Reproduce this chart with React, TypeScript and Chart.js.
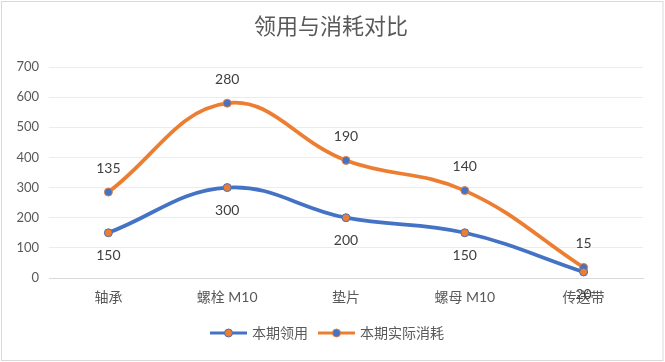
import React, { useEffect, useRef } from 'react';
import { Chart, registerables } from 'chart.js';

Chart.register(...registerables);

const titleText = '领用与消耗对比';
const categories = ['轴承', '螺栓 M10', '垫片', '螺母 M10', '传送带'];
const usedValues = [150, 300, 200, 150, 20];
const consumedValues = [135, 280, 190, 140, 15];
const seriesNames = ['本期领用', '本期实际消耗'];
const yTicks = [0, 100, 200, 300, 400, 500, 600, 700];

const BLUE = '#4472C4';
const ORANGE = '#ED7D31';
const FONT = 'Lato, "Noto Sans CJK SC", sans-serif';

const decorPlugin = {
  id: 'decor',
  beforeDraw(chart: any) {
    const ctx = chart.ctx;
    ctx.save();
    ctx.fillStyle = '#ffffff';
    ctx.fillRect(0, 0, chart.width, chart.height);
    ctx.strokeStyle = '#d9d9d9';
    ctx.lineWidth = 1;
    ctx.strokeRect(1.5, 1.5, chart.width - 3.5, chart.height - 3);
    ctx.restore();
  },
  afterDraw(chart: any) {
    const ctx = chart.ctx;
    ctx.save();
    // title
    ctx.fillStyle = '#595959';
    ctx.font = `22px ${FONT}`;
    ctx.textAlign = 'center';
    ctx.textBaseline = 'middle';
    ctx.fillText(titleText, 331, 27);
    // legend
    const ly = 333;
    const items = [
      { x: 210, line: BLUE, fill: ORANGE, text: seriesNames[0] },
      { x: 318, line: ORANGE, fill: BLUE, text: seriesNames[1] },
    ];
    items.forEach((it) => {
      ctx.strokeStyle = it.line;
      ctx.lineWidth = 3;
      ctx.beginPath();
      ctx.moveTo(it.x, ly);
      ctx.lineTo(it.x + 37, ly);
      ctx.stroke();
      ctx.beginPath();
      ctx.arc(it.x + 18.5, ly, 4, 0, Math.PI * 2);
      ctx.fillStyle = it.fill;
      ctx.fill();
      ctx.lineWidth = 1;
      ctx.strokeStyle = it.line;
      ctx.stroke();
      ctx.fillStyle = '#595959';
      ctx.font = `14px ${FONT}`;
      ctx.textAlign = 'left';
      ctx.textBaseline = 'middle';
      ctx.fillText(it.text, it.x + 42, ly);
    });
    ctx.restore();
  },
  afterDatasetsDraw(chart: any) {
    const ctx = chart.ctx;
    ctx.save();
    ctx.fillStyle = '#404040';
    ctx.font = `14px ${FONT}`;
    ctx.textAlign = 'center';
    ctx.textBaseline = 'middle';
    chart.data.datasets.forEach((ds: any, di: number) => {
      const meta = chart.getDatasetMeta(di);
      meta.data.forEach((pt: any, i: number) => {
        const dy = di === 0 ? 23 : -24;
        ctx.fillText(String(ds.data[i]), pt.x, pt.y + dy);
      });
    });
    ctx.restore();
  },
};

export default function App() {
  const ref = useRef<HTMLCanvasElement | null>(null);
  useEffect(() => {
    if (!ref.current) return;
    const chart = new Chart(ref.current, {
      type: 'line',
      data: {
        labels: categories,
        datasets: [
          {
            label: seriesNames[0],
            data: usedValues,
            borderColor: BLUE,
            backgroundColor: BLUE,
            borderWidth: 3.75,
            tension: 0.4,
            pointRadius: 4,
            pointBackgroundColor: ORANGE,
            pointBorderColor: BLUE,
            pointBorderWidth: 1,
            fill: false,
          },
          {
            label: seriesNames[1],
            data: consumedValues,
            borderColor: ORANGE,
            backgroundColor: ORANGE,
            borderWidth: 3.75,
            tension: 0.4,
            pointRadius: 4,
            pointBackgroundColor: BLUE,
            pointBorderColor: ORANGE,
            pointBorderWidth: 1,
            fill: false,
          },
        ],
      },
      options: {
        animation: false,
        responsive: false,
        layout: { padding: { left: 0, right: 22, top: 67, bottom: 0 } },
        plugins: {
          legend: { display: false },
          title: { display: false },
          tooltip: { enabled: false },
        },
        scales: {
          x: {
            offset: true,
            grid: { display: false, drawTicks: false },
            border: { display: true, color: '#d9d9d9', width: 1 },
            ticks: { color: '#595959', font: { size: 14, family: FONT }, padding: 11, maxRotation: 0 },
            afterFit: (s: any) => { s.height = 84; },
          },
          y: {
            stacked: true,
            min: 0,
            max: 700,
            afterBuildTicks: (s: any) => { s.ticks = yTicks.map((v) => ({ value: v })); },
            grid: { color: '#ececec', drawTicks: false },
            border: { display: false },
            ticks: { color: '#595959', font: { size: 13, family: FONT }, padding: 10 },
            afterFit: (s: any) => { s.width = 49; },
          },
        },
      },
      plugins: [decorPlugin],
    });
    return () => chart.destroy();
  }, []);
  return (
    <div style={{ position: 'absolute', left: 0, top: 0, width: 665, height: 362 }}>
      <canvas ref={ref} width={665} height={362} />
    </div>
  );
}
